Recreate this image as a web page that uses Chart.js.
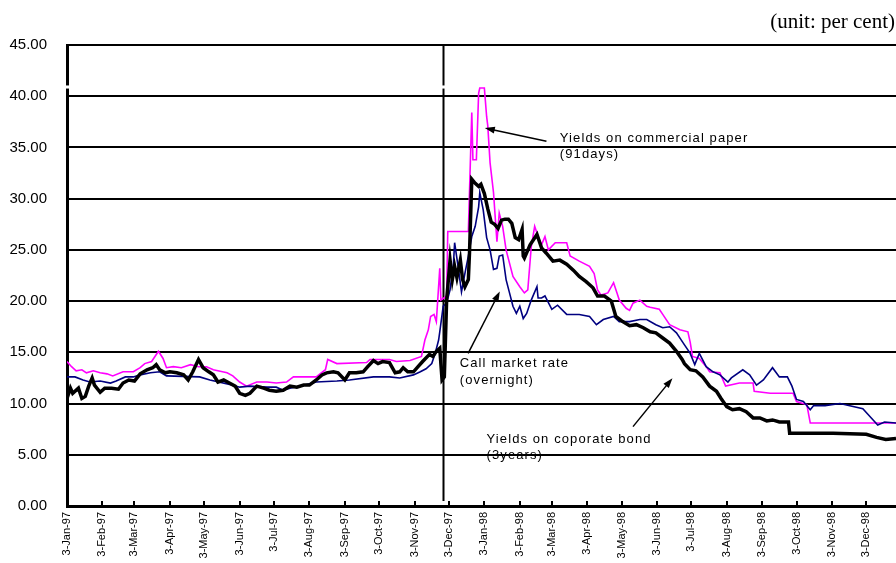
<!DOCTYPE html>
<html lang="en">
<head>
<meta charset="UTF-8"/>
<title>Interest rates 1997-98</title>
<script src="https://cdn.jsdelivr.net/npm/chart.js@4/dist/chart.umd.min.js"></script>
<style>
  *{margin:0;padding:0}
  body{background:#fff;width:896px;height:563px;overflow:hidden}
  canvas{display:block}
</style>
</head>
<body>
<canvas id="c" width="896" height="563"></canvas>
<script>
// x = days since 3-Jan-97
const tickLabels = ['3-Jan-97','3-Feb-97','3-Mar-97','3-Apr-97','3-May-97','3-Jun-97','3-Jul-97','3-Aug-97',
  '3-Sep-97','3-Oct-97','3-Nov-97','3-Dec-97','3-Jan-98','3-Feb-98','3-Mar-98','3-Apr-98','3-May-98',
  '3-Jun-98','3-Jul-98','3-Aug-98','3-Sep-98','3-Oct-98','3-Nov-98','3-Dec-98'];
const tickDays = [0,31,59,90,120,151,181,212,243,273,304,334,365,396,424,455,485,516,546,577,608,638,669,699];
const yTicks = [0,5,10,15,20,25,30,35,40,45];

// Yields on corporate bond (3 years)
const bondPts = [[0,10.5],[3,11.5],[5,11.0],[10,11.5],[13,10.5],[16,10.7],[19,11.7],[22,12.5],[24,11.8],[29,11.1],
  [33,11.5],[39,11.5],[45,11.4],[49,12.0],[54,12.3],[59,12.2],[64,12.9],[70,13.3],[75,13.5],[78,13.8],[81,13.3],
  [86,13.0],[90,13.1],[96,13.0],[102,12.8],[106,12.3],[110,13.1],[115,14.3],[119,13.5],[124,13.1],[128,12.8],
  [132,12.1],[137,12.3],[142,12.0],[147,11.7],[151,11.0],[156,10.8],[160,11.0],[166,11.7],[172,11.5],[177,11.3],
  [183,11.2],[189,11.3],[195,11.7],[201,11.6],[207,11.8],[212,11.8],[218,12.3],[223,12.8],[227,13.0],[233,13.1],
  [237,13.0],[243,12.3],[247,13.0],[253,13.0],[259,13.1],[263,13.6],[268,14.2],[272,13.9],[276,14.1],[282,14.0],
  [287,13.0],[291,13.1],[294,13.5],[298,13.1],[303,13.1],[307,13.6],[311,14.1],[317,14.8],[320,14.6],[323,15.1],
  [326,15.4],[328,12.3],[330,12.6],[332,20.1],[335,24.0],[337,22.1],[339,23.4],[341,22.3],[344,24.0],[346,22.1],
  [348,21.4],[351,22.1],[352,24.7],[354,31.9],[357,31.5],[360,31.2],[362,31.4],[365,30.5],[368,29.0],[371,27.7],
  [374,27.5],[377,27.1],[380,27.9],[383,28.0],[386,28.0],[389,27.6],[392,26.2],[395,26.0],[398,27.0],[399,24.4],
  [400,24.2],[405,25.5],[411,26.5],[415,25.2],[419,24.7],[425,23.9],[431,24.0],[437,23.6],[443,23.0],[448,22.4],
  [454,21.9],[460,21.3],[464,20.5],[470,20.5],[476,20.0],[480,18.5],[486,18.0],[492,17.6],[498,17.7],[504,17.4],
  [510,17.0],[515,16.9],[521,16.4],[527,15.9],[533,15.1],[538,14.3],[540,13.9],[545,13.3],[550,13.2],[556,12.6],
  [562,11.7],[568,11.2],[572,10.5],[577,9.7],[582,9.4],[588,9.5],[594,9.2],[600,8.6],[606,8.6],[612,8.3],[617,8.4],
  [623,8.2],[631,8.2],[632,7.1],[670,7.1],[699,7.0],[708,6.7],[716,6.5],[725,6.6]];

// Call market rate (overnight)
const callPts = [[0,12.6],[7,12.6],[14,12.3],[20,12.1],[29,12.2],[38,12.0],[43,12.2],[51,12.6],[58,12.6],[64,12.8],
  [73,13.0],[81,13.1],[87,12.7],[116,12.6],[125,12.3],[145,11.8],[151,11.6],[160,11.7],[175,11.6],[183,11.6],
  [189,11.3],[195,11.5],[204,11.7],[218,12.1],[236,12.2],[247,12.3],[268,12.6],[282,12.6],[291,12.5],[303,12.8],
  [309,13.1],[314,13.4],[319,13.9],[322,14.9],[325,16.2],[326,17.0],[329,19.5],[332,19.8],[335,21.1],[338,23.7],
  [339,25.7],[342,23.4],[345,20.9],[348,22.7],[351,24.4],[354,26.3],[357,27.3],[360,29.2],[361,30.6],[364,28.9],
  [367,26.2],[370,25.0],[373,23.1],[376,23.2],[378,24.4],[381,24.5],[384,22.1],[387,20.8],[390,19.5],[393,18.8],
  [396,19.5],[399,18.3],[402,18.8],[406,20.1],[411,21.4],[412,20.3],[415,20.3],[418,20.5],[424,19.2],[429,19.6],
  [437,18.7],[448,18.7],[457,18.5],[463,17.7],[469,18.2],[478,18.5],[483,18.0],[492,18.0],[501,18.2],[507,18.2],
  [515,17.7],[521,17.4],[527,17.5],[533,16.9],[539,15.9],[545,14.9],[549,13.8],[553,14.9],[559,13.6],[565,13.1],
  [571,12.8],[578,12.1],[581,12.5],[591,13.3],[597,12.8],[603,11.8],[609,12.3],[617,13.5],[623,12.6],[630,12.6],
  [634,11.7],[638,10.4],[644,10.2],[650,9.4],[653,9.8],[663,9.8],[676,10.0],[696,9.5],[705,8.4],[709,7.9],
  [715,8.2],[725,8.1]];

// Yields on commercial paper (91 days)
const cpPts = [[0,14.1],[4,13.6],[8,13.2],[13,13.3],[17,13.0],[23,13.2],[29,13.0],[35,12.9],[40,12.7],[49,13.1],
  [58,13.1],[64,13.5],[68,13.9],[74,14.1],[80,15.1],[84,14.4],[87,13.5],[93,13.6],[100,13.5],[108,13.8],[115,13.6],
  [122,13.6],[128,13.3],[140,13.0],[145,12.7],[151,12.1],[157,11.7],[166,12.1],[175,12.1],[183,12.0],[192,12.1],
  [198,12.6],[218,12.6],[226,13.3],[228,14.3],[236,13.9],[262,14.0],[265,14.3],[282,14.3],[288,14.1],[300,14.2],
  [310,14.6],[313,16.2],[316,17.2],[318,18.5],[321,18.7],[323,18.0],[326,23.2],[327,20.1],[332,20.5],[333,26.8],
  [351,26.8],[354,38.4],[355,33.8],[358,33.8],[360,40.3],[361,40.8],[365,40.8],[367,38.0],[368,37.1],[370,33.5],
  [373,30.6],[376,25.8],[378,28.6],[381,27.3],[384,25.0],[390,22.4],[396,21.4],[400,20.8],[403,21.1],[406,25.3],
  [409,27.3],[412,26.3],[415,25.5],[418,26.3],[421,25.0],[427,25.7],[437,25.7],[440,24.4],[448,23.9],[457,23.4],
  [461,22.7],[464,21.1],[467,20.6],[473,20.8],[478,21.8],[481,20.8],[483,20.1],[489,19.3],[492,19.1],[495,19.8],
  [501,20.1],[507,19.5],[510,19.4],[518,19.2],[521,18.7],[527,17.7],[536,17.2],[543,17.0],[545,16.0],[547,14.6],
  [553,14.4],[559,13.6],[562,13.1],[571,13.0],[576,11.7],[588,12.0],[600,12.0],[601,11.2],[615,11.0],[635,11.0],
  [638,10.2],[647,9.9],[650,8.1],[725,8.1]];

// annotations, in data units (day, per cent)
const notes = [
  {lines:['Yields on commercial paper','(91days)'], at:[431,35.9], from:[419.3,35.6], tip:[365.4,36.9]},
  {lines:['Call market rate','(overnight)'],     at:[343.5,13.9], from:[350.8,14.9], tip:[378.5,20.95]},
  {lines:['Yields on coporate bond','(3years)'],  at:[366.9,6.5],  from:[495,7.75],   tip:[529.5,12.48]},
];
const crisisDay = 329;

const toXY = pts => pts.map(([x, y]) => ({x, y}));

const extras = {
  id: 'extras',
  beforeDatasetsDraw(chart) {
    const {ctx, scales:{x, y}} = chart;
    const px = Math.round(x.getPixelForValue(crisisDay)) + 0.5;
    ctx.save();
    ctx.strokeStyle = '#000'; ctx.lineWidth = 2;
    ctx.beginPath();
    ctx.moveTo(px, y.getPixelForValue(45));
    ctx.lineTo(px, y.getPixelForValue(0.5));
    ctx.stroke();
    ctx.restore();
  },
  afterDraw(chart) {
    const {ctx, chartArea, scales:{x, y}} = chart;
    ctx.save();
    // small inside tick marks on the date axis
    ctx.strokeStyle = '#000'; ctx.lineWidth = 2;
    tickDays.forEach(d => {
      const px = Math.round(x.getPixelForValue(d));
      ctx.beginPath(); ctx.moveTo(px, chartArea.bottom); ctx.lineTo(px, chartArea.bottom - 5); ctx.stroke();
    });
    // little white break seen on the axis and the vertical line
    ctx.fillStyle = '#fff';
    const gy1 = y.getPixelForValue(41.05), gy2 = y.getPixelForValue(40.75);
    [chartArea.left, x.getPixelForValue(crisisDay)].forEach(gx => ctx.fillRect(gx - 3, gy1, 6, gy2 - gy1));

    // arrows + labels
    ctx.strokeStyle = '#000'; ctx.fillStyle = '#000'; ctx.lineWidth = 1.5;
    notes.forEach(n => {
      const x1 = x.getPixelForValue(n.from[0]), y1 = y.getPixelForValue(n.from[1]);
      const x2 = x.getPixelForValue(n.tip[0]),  y2 = y.getPixelForValue(n.tip[1]);
      const a = Math.atan2(y2 - y1, x2 - x1), L = 10, W = 3.5;
      ctx.beginPath(); ctx.moveTo(x1, y1);
      ctx.lineTo(x2 - Math.cos(a) * L * 0.8, y2 - Math.sin(a) * L * 0.8); ctx.stroke();
      ctx.beginPath(); ctx.moveTo(x2, y2);
      ctx.lineTo(x2 - Math.cos(a) * L - Math.sin(a) * W, y2 - Math.sin(a) * L + Math.cos(a) * W);
      ctx.lineTo(x2 - Math.cos(a) * L + Math.sin(a) * W, y2 - Math.sin(a) * L - Math.cos(a) * W);
      ctx.closePath(); ctx.fill();

      ctx.font = '13px "Liberation Sans", Arial, sans-serif';
      ctx.letterSpacing = '1.1px';
      ctx.textAlign = 'left'; ctx.textBaseline = 'middle';
      const tx = x.getPixelForValue(n.at[0]), ty = y.getPixelForValue(n.at[1]);
      n.lines.forEach((t, i) => ctx.fillText(t, tx, ty + i * 16.5));
    });

    ctx.letterSpacing = '0px';
    ctx.font = '21px "Liberation Serif", "Times New Roman", serif';
    ctx.textAlign = 'right'; ctx.textBaseline = 'middle';
    ctx.fillText('(unit: per cent)', 895, 22);
    ctx.restore();
  }
};

new Chart(document.getElementById('c'), {
  type: 'line',
  data: {
    datasets: [
      {label:'Yields on coporate bond (3years)', data:toXY(bondPts), borderColor:'#000', borderWidth:3.5,
       pointRadius:0, tension:0, fill:false},
      {label:'Call market rate (overnight)', data:toXY(callPts), borderColor:'#000080', borderWidth:1.6,
       pointRadius:0, tension:0, fill:false},
      {label:'Yields on commercial paper (91days)', data:toXY(cpPts), borderColor:'#ff00ff', borderWidth:1.6,
       pointRadius:0, tension:0, fill:false},
    ]
  },
  options: {
    responsive:false, animation:false, devicePixelRatio:1,
    layout:{padding:{top:45, right:0, left:0, bottom:0}},
    plugins:{legend:{display:false}, tooltip:{enabled:false}},
    scales:{
      x:{
        type:'linear', min:0, max:725,
        afterBuildTicks: s => { s.ticks = tickDays.map(v => ({value:v})); },
        afterFit: s => { s.height = 57; },
        ticks:{
          autoSkip:false, minRotation:90, maxRotation:90, padding:6, color:'#000',
          font:{family:'"Liberation Sans", Arial, sans-serif', size:11},
          callback: v => tickLabels[tickDays.indexOf(v)] ?? ''
        },
        grid:{drawOnChartArea:false, drawTicks:false},
        border:{display:true, color:'#000', width:3}
      },
      y:{
        min:0, max:45,
        afterBuildTicks: s => { s.ticks = yTicks.map(v => ({value:v})); },
        afterFit: s => { s.width = 67; },
        ticks:{
          padding:20, color:'#000',
          font:{family:'"Liberation Sans", Arial, sans-serif', size:15},
          callback: v => v.toFixed(2)
        },
        grid:{color:'#000', lineWidth:2, drawTicks:false},
        border:{display:true, color:'#000', width:3}
      }
    }
  },
  plugins:[extras]
});
</script>
</body>
</html>
